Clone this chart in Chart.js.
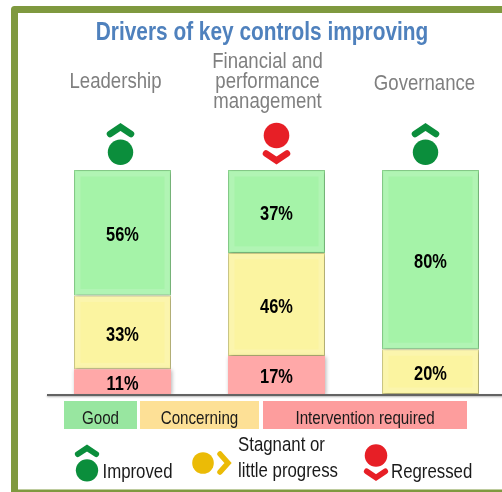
<!DOCTYPE html>
<html>
<head>
<meta charset="utf-8">
<style>
html, body { margin: 0; padding: 0; background: #fff; overflow: hidden; }
#wrap { position: absolute; left: 0; top: 0; width: 502px; height: 492px; overflow: hidden; }
#wrap div { position: absolute; left: 0; top: 0; width: 510px; height: 492px; }
</style>
</head>
<body>
<div id="wrap"><div><canvas id="chart"></canvas></div></div>
<script src="https://cdn.jsdelivr.net/npm/chart.js@4/dist/chart.umd.min.js"></script>
<script>
var categories = [['Leadership'], ['Financial and', 'performance', 'management'], ['Governance']];
var good = [56, 37, 80];
var concerning = [33, 46, 20];
var intervention = [11, 17, 0];
var trend = ['up', 'down', 'up'];
var iconShift = [-2, 0, -5];
var titleText = 'Drivers of key controls improving';
var legendBoxes = ['Good', 'Concerning', 'Intervention required'];
var legendIcons = ['Improved', ['Stagnant or', 'little progress'], 'Regressed'];

var SANS = '"Liberation Sans", Arial, sans-serif';
var GREEN = '#0b8e3c', RED = '#e71f26', AMBER = '#ebbb06';

// no narrow font here, so squeeze the text with the maxWidth argument
function narrowText(c, text, x, y, ratio) {
    c.fillText(text, x, y, c.measureText(text).width * ratio);
}

function chevron(c, x, y, dir, color, s) {
    c.save();
    c.strokeStyle = color;
    c.lineWidth = 6.5 * s;
    c.lineCap = 'round';
    c.lineJoin = 'miter';
    c.beginPath();
    var k = dir === 'up' ? 1 : -1;
    c.moveTo(x - 10.5 * s, y + 4 * k * s);
    c.lineTo(x, y - 3 * k * s);
    c.lineTo(x + 10.5 * s, y + 4 * k * s);
    c.stroke();
    c.restore();
}

function dot(c, x, y, r, color) {
    c.fillStyle = color;
    c.beginPath();
    c.arc(x, y, r, 0, Math.PI * 2);
    c.fill();
}

function upIcon(c, x, y, s) {
    chevron(c, x, y - 14 * s, 'up', GREEN, s);
    dot(c, x, y + 8.3 * s, 12.7 * s, GREEN);
}
function downIcon(c, x, y, s) {
    dot(c, x, y - 8.5 * s, 12.8 * s, RED);
    chevron(c, x, y + 13.5 * s, 'down', RED, s);
}

var framePlugin = {
    id: 'frame',
    beforeDraw(chart) {
        var c = chart.ctx;
        c.save();
        c.strokeStyle = '#7f993f';
        c.lineWidth = 7;
        c.lineJoin = 'round';
        c.beginPath();
        c.moveTo(530, 9.5);
        c.lineTo(14.5, 9.5);
        c.lineTo(14.5, 493);
        c.lineTo(530, 493);
        c.stroke();
        c.restore();

        // title and category names
        c.save();
        c.textBaseline = 'alphabetic';
        c.textAlign = 'center';
        c.font = 'bold 25px ' + SANS;
        c.fillStyle = '#4f81bd';
        narrowText(c, titleText, 262, 40, 0.834);
        c.font = '22px ' + SANS;
        c.fillStyle = '#7f7f7f';
        narrowText(c, categories[0][0], 115.5, 88, 0.845);
        narrowText(c, categories[1][0], 267.5, 68, 0.845);
        narrowText(c, categories[1][1], 267.5, 88, 0.845);
        narrowText(c, categories[1][2], 267.5, 108, 0.845);
        narrowText(c, categories[2][0], 424.5, 89.5, 0.845);
        c.restore();
    },
    beforeDatasetsDraw(chart) {
        chart.ctx.save();
        chart.ctx.shadowColor = 'rgba(0,0,0,0.3)';
        chart.ctx.shadowBlur = 4;
        chart.ctx.shadowOffsetX = 1;
        chart.ctx.shadowOffsetY = 1;
    },
    afterDatasetsDraw(chart) {
        var c = chart.ctx;
        c.restore();
        var area = chart.chartArea;

        // baseline
        c.save();
        c.strokeStyle = '#636363';
        c.lineWidth = 2;
        c.shadowColor = 'rgba(0,0,0,0.3)';
        c.shadowBlur = 2;
        c.shadowOffsetY = 1;
        c.beginPath();
        c.moveTo(47, area.bottom + 1);
        c.lineTo(510, area.bottom + 1);
        c.stroke();
        c.restore();

        // percent labels, plus the soft inner edge on the green and yellow blocks
        c.save();
        c.font = 'bold 20px ' + SANS;
        c.textAlign = 'center';
        c.textBaseline = 'middle';
        chart.data.datasets.forEach(function (ds, i) {
            var meta = chart.getDatasetMeta(i);
            meta.data.forEach(function (bar, j) {
                if (!ds.data[j]) return;
                if (i > 0) {
                    c.strokeStyle = 'rgba(255,255,255,0.14)';
                    c.lineWidth = 5;
                    c.strokeRect(bar.x - bar.width / 2 + 4, bar.y + 4, bar.width - 8, bar.base - bar.y - 8);
                }
                c.fillStyle = '#000';
                narrowText(c, ds.data[j] + '%', bar.x, (bar.y + bar.base) / 2 + 3, 0.82);
            });
        });
        c.restore();

        // trend icons above the bars
        var xs = chart.scales.x;
        trend.forEach(function (t, i) {
            var x = xs.getPixelForValue(i) + iconShift[i];
            if (t === 'up') upIcon(c, x, 144, 1);
            else downIcon(c, x, 144, 1);
        });

        // legend boxes
        c.save();
        c.font = '18.5px ' + SANS;
        c.textAlign = 'center';
        c.textBaseline = 'alphabetic';
        [[64, 73, '#98e6a0'], [140, 119, '#fde096'], [263, 204, '#fd9d9d']].forEach(function (b, i) {
            c.fillStyle = b[2];
            c.fillRect(b[0], 401, b[1], 28);
            c.fillStyle = '#1a1a1a';
            narrowText(c, legendBoxes[i], b[0] + b[1] / 2, 424, 0.82);
        });

        // legend icons
        upIcon(c, 87, 463, 0.88);
        dot(c, 203, 463, 10.8, AMBER);
        c.strokeStyle = AMBER;
        c.lineWidth = 5.5;
        c.lineCap = 'round';
        c.beginPath();
        c.moveTo(220, 454);
        c.lineTo(228, 463);
        c.lineTo(220, 472);
        c.stroke();
        downIcon(c, 376, 463, 0.88);

        c.fillStyle = '#1a1a1a';
        c.font = '20.5px ' + SANS;
        c.textAlign = 'left';
        narrowText(c, legendIcons[0], 102.5, 477.5, 0.82);
        narrowText(c, legendIcons[1][0], 238, 451, 0.82);
        narrowText(c, legendIcons[1][1], 238, 477, 0.82);
        narrowText(c, legendIcons[2], 391, 477.5, 0.82);
        c.restore();
    }
};

new Chart(document.getElementById('chart'), {
    type: 'bar',
    data: {
        labels: categories,
        datasets: [
            { label: 'Intervention required', data: intervention, backgroundColor: '#ffa8a8', borderColor: '#ffa8a8', borderWidth: 0 },
            { label: 'Concerning', data: concerning, backgroundColor: '#fbf4a0', borderColor: '#d9d490', borderWidth: 1, borderSkipped: false },
            { label: 'Good', data: good, backgroundColor: '#a5f3a8', borderColor: '#8fd892', borderWidth: 1, borderSkipped: false }
        ]
    },
    options: {
        responsive: true,
        maintainAspectRatio: false,
        animation: false,
        datasets: { bar: { barPercentage: 0.63, categoryPercentage: 1 } },
        layout: { padding: { left: 45.5, right: 2.5, top: 170, bottom: 98 } },
        plugins: {
            legend: { display: false },
            tooltip: { enabled: false }
        },
        scales: {
            x: { stacked: true, display: false },
            y: { stacked: true, display: false, min: 0, max: 100 }
        }
    },
    plugins: [framePlugin]
});
</script>
</body>
</html>
